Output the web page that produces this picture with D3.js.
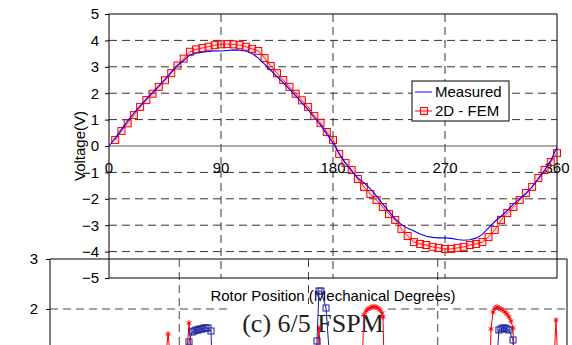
<!DOCTYPE html>
<html>
<head>
<meta charset="utf-8">
<script src="https://cdn.jsdelivr.net/npm/d3@7"></script>
<style>
  html, body { margin: 0; padding: 0; background: #fff; }
  svg { display: block; }
</style>
</head>
<body>
<svg id="chart" width="572" height="345"></svg>
<script>
// ---- Back-EMF over one mechanical revolution ----
const measuredDeg = [0,5,10,15,20,25,30,35,40,45,50,55,60,65,70,75,80,85,90,95,100,105,110,115,120,125,130,135,140,145,150,155,160,165,170,175,180,185,190,195,200,205,210,215,220,225,230,235,240,245,250,255,260,265,270,275,280,285,290,295,300,305,310,315,320,325,330,335,340,345,350,355,360];
const measuredVolt = [0,0.3,0.62,0.95,1.25,1.52,1.78,2.02,2.28,2.52,2.8,3.05,3.24,3.45,3.52,3.55,3.58,3.61,3.6,3.62,3.64,3.63,3.6,3.5,3.33,3.1,2.87,2.63,2.4,2.15,1.9,1.63,1.38,1.07,0.8,0.45,0.12,-0.3,-0.65,-0.95,-1.22,-1.4,-1.62,-1.9,-2.2,-2.48,-2.76,-2.98,-3.12,-3.22,-3.33,-3.42,-3.46,-3.48,-3.48,-3.5,-3.54,-3.57,-3.55,-3.49,-3.35,-3.1,-2.86,-2.66,-2.45,-2.2,-2.0,-1.8,-1.55,-1.25,-0.93,-0.55,-0.05];

const femDeg = [5,10,15,20,25,30,35,40,45,50,55,60,65,70,75,80,85,90,95,100,105,110,115,120,125,130,135,140,145,150,155,160,165,170,175,180,185,190,195,200,205,210,215,220,225,230,235,240,245,250,255,260,265,270,275,280,285,290,295,300,305,310,315,320,325,330,335,340,345,350,355,360];
const femVolt = [0.23,0.57,0.86,1.17,1.48,1.74,1.98,2.24,2.49,2.76,3.05,3.31,3.57,3.66,3.71,3.76,3.82,3.85,3.86,3.85,3.82,3.76,3.68,3.6,3.33,3.03,2.76,2.5,2.24,1.98,1.73,1.48,1.14,0.88,0.53,0.23,-0.3,-0.64,-0.91,-1.25,-1.55,-1.82,-2.05,-2.31,-2.58,-2.8,-3.14,-3.41,-3.64,-3.71,-3.75,-3.82,-3.86,-3.9,-3.9,-3.86,-3.82,-3.75,-3.71,-3.64,-3.45,-3.18,-2.8,-2.54,-2.31,-2.05,-1.78,-1.55,-1.21,-0.91,-0.61,-0.27];

const voltTicks = [-5,-4,-3,-2,-1,0,1,2,3,4,5];
const degTicks = [0,90,180,270,360];
const seriesNames = ["Measured", "2D - FEM"];

// ---- Top edge of the following figure (partly visible) ----
const lowerTicks = [2,3];
const lowerGridX = [90,180,270];
const lowerRedX = [80.1,82.2,84.3,94.7,96.8,98.9,185.9,187.3,188.7,217.3,218.6,220.0,221.4,222.8,224.2,225.6,227.0,228.4,229.8,231.2,231.9,232.6,306.4,307.1,308.5,309.9,311.3,312.6,314.0,315.4,316.8,318.2,319.6,321.0,322.4,323.1,350.9,352.3,353.7];
const lowerRedY = [0.9,1.5,0.9,0.9,1.72,0.9,0.9,1.62,0.9,0.9,1.88,1.96,2.0,2.02,2.04,2.04,2.04,2.02,1.98,1.92,1.84,0.9,0.9,1.6,1.94,2.02,2.04,2.02,2.0,1.98,1.94,1.9,1.84,1.76,1.62,0.9,0.9,1.78,0.9];
const lowerBlueX = [96.1,96.8,98.9,100.3,101.7,103.1,104.4,105.8,107.2,108.6,110.0,112.1,112.8,185.2,185.9,187.3,188.7,192.2,195.0,311.0,312.6,314.0,315.4,316.8,318.2,319.6,322.4,323.1];
const lowerBlueY = [0.9,1.34,1.54,1.56,1.58,1.58,1.6,1.6,1.62,1.62,1.62,1.56,0.9,0.9,1.36,2.36,2.36,2.02,0.9,0.9,1.58,1.6,1.62,1.62,1.6,1.58,1.38,0.9];
const captionText = "(c) 6/5 FSPM";

const SANS = "'Liberation Sans', Arial, sans-serif";
const SERIF = "'Liberation Serif', 'Times New Roman', serif";
const svg = d3.select("#chart");
svg.append("rect").attr("width", 572).attr("height", 345).attr("fill", "#fff");

// ---------- lower figure: frame and grid ----------
const xB = d3.scaleLinear().domain([0, 360]).range([50, 567]);
const yB = d3.scaleLinear().domain([0, 3]).range([409, 259]);
const lower = svg.append("g");

lower.selectAll("line.hgrid").data([2]).join("line")
  .attr("x1", xB(0)).attr("x2", xB(360))
  .attr("y1", d => yB(d)).attr("y2", d => yB(d))
  .attr("stroke", "#444").attr("stroke-dasharray", "8,5");
lower.selectAll("line.vgrid").data(lowerGridX).join("line")
  .attr("x1", d => xB(d)).attr("x2", d => xB(d))
  .attr("y1", yB(3)).attr("y2", 345)
  .attr("stroke", "#444").attr("stroke-dasharray", "8,5");
lower.append("path")
  .attr("d", `M${xB(0)},400V${yB(3)}H${xB(360)}V400`)
  .attr("fill", "none").attr("stroke", "#000");
const yAxisB = lower.append("g").attr("transform", `translate(${xB(0)},0)`)
  .call(d3.axisLeft(yB).tickValues(lowerTicks).tickSize(4).tickSizeOuter(0).tickPadding(8).tickFormat(d3.format("d")));
yAxisB.select(".domain").remove();
yAxisB.selectAll("text").attr("font-family", SANS).attr("font-size", 15).attr("fill", "#000");

// caption with its own white backing
svg.append("rect").attr("x", 231).attr("y", 304).attr("width", 156).attr("height", 41).attr("fill", "#fff");
svg.append("text").attr("x", 313).attr("y", 332).attr("text-anchor", "middle")
  .attr("font-family", SERIF).attr("font-size", 26).attr("fill", "#222").text(captionText);

// ---------- main chart ----------
const x = d3.scaleLinear().domain([0, 360]).range([109, 557]);
const y = d3.scaleLinear().domain([-5, 5]).range([278, 14]);
const main = svg.append("g");

main.selectAll("line.hg").data(voltTicks.filter(v => v !== 0 && Math.abs(v) !== 5)).join("line")
  .attr("x1", x(0)).attr("x2", x(360))
  .attr("y1", d => y(d)).attr("y2", d => y(d))
  .attr("stroke", "#333").attr("stroke-dasharray", "8,5");
main.selectAll("line.vg").data(degTicks.slice(1, -1)).join("line")
  .attr("x1", d => x(d)).attr("x2", d => x(d))
  .attr("y1", y(5)).attr("y2", y(-5))
  .attr("stroke", "#333").attr("stroke-dasharray", "8,5");
// zero line
main.append("line").attr("x1", x(0)).attr("x2", x(360)).attr("y1", y(0)).attr("y2", y(0))
  .attr("stroke", "#555");
// frame
main.append("rect").attr("x", x(0)).attr("y", y(5))
  .attr("width", x(360) - x(0)).attr("height", y(-5) - y(5))
  .attr("fill", "none").attr("stroke", "#000");

const yAxis = main.append("g").attr("transform", `translate(${x(0)},0)`)
  .call(d3.axisLeft(y).tickValues(voltTicks).tickSize(4).tickSizeOuter(0).tickPadding(6).tickFormat(d3.format("d")));
yAxis.select(".domain").remove();
yAxis.selectAll("text").attr("font-family", SANS).attr("font-size", 15).attr("fill", "#000");

main.selectAll("text.xl").data(degTicks).join("text")
  .attr("x", d => x(d)).attr("y", 173).attr("text-anchor", "middle")
  .attr("font-family", SANS).attr("font-size", 15).attr("fill", "#000")
  .text(d => d);

main.append("text").attr("transform", `translate(85,${y(0)}) rotate(-90)`)
  .attr("text-anchor", "middle").attr("font-family", SANS).attr("font-size", 15).attr("fill", "#000")
  .text("Voltage(V)");
main.append("text").attr("x", x(180)).attr("y", 301).attr("text-anchor", "middle")
  .attr("font-family", SANS).attr("font-size", 15).attr("fill", "#000")
  .text("Rotor Position (Mechanical Degrees)");

// series
const fem = femDeg.map((d, i) => [d, femVolt[i]]);
const meas = measuredDeg.map((d, i) => [d, measuredVolt[i]]);
const line = d3.line().x(d => x(d[0])).y(d => y(d[1]));

main.append("path").datum(fem).attr("d", line)
  .attr("fill", "none").attr("stroke", "#ff0000").attr("stroke-width", 1);
main.selectAll("rect.fem").data(fem).join("rect")
  .attr("x", d => x(d[0]) - 3.5).attr("y", d => y(d[1]) - 3.5)
  .attr("width", 7).attr("height", 7)
  .attr("fill", "rgba(255,120,120,0.25)").attr("stroke", "#ff0000").attr("stroke-width", 1);
main.append("path").datum(meas).attr("d", line)
  .attr("fill", "none").attr("stroke", "#0000ff").attr("stroke-width", 1.1);

// legend
const lg = main.append("g").attr("transform", "translate(412,81)");
lg.append("rect").attr("width", 97).attr("height", 40).attr("fill", "#fff").attr("stroke", "#000");
lg.append("line").attr("x1", 3).attr("x2", 20).attr("y1", 11).attr("y2", 11).attr("stroke", "#0000ff");
lg.append("line").attr("x1", 3).attr("x2", 20).attr("y1", 30).attr("y2", 30).attr("stroke", "#ff0000");
lg.append("rect").attr("x", 8.5).attr("y", 26.5).attr("width", 7).attr("height", 7)
  .attr("fill", "rgba(255,120,120,0.25)").attr("stroke", "#ff0000");
lg.selectAll("text").data(seriesNames).join("text")
  .attr("x", 23).attr("y", (d, i) => 16 + i * 19)
  .attr("font-family", SANS).attr("font-size", 15).attr("fill", "#000")
  .text(d => d);

// ---------- lower figure: traces (drawn last) ----------
const red = lowerRedX.map((d, i) => [d, lowerRedY[i]]);
const blue = lowerBlueX.map((d, i) => [d, lowerBlueY[i]]);
const lineB = d3.line().x(d => xB(d[0])).y(d => yB(d[1]));
const star = d3.symbol().type(d3.symbolAsterisk).size(22);

svg.append("path").datum(red).attr("d", lineB)
  .attr("fill", "none").attr("stroke", "#ff0000").attr("stroke-width", 1);
svg.selectAll("path.star").data(red).join("path")
  .attr("transform", d => `translate(${xB(d[0])},${yB(d[1])})`)
  .attr("d", star).attr("fill", "none").attr("stroke", "#ff0000").attr("stroke-width", 1);
svg.append("path").datum(blue).attr("d", lineB)
  .attr("fill", "none").attr("stroke", "#1c1c9c").attr("stroke-width", 1);
svg.selectAll("rect.bsq").data(blue).join("rect")
  .attr("x", d => xB(d[0]) - 3).attr("y", d => yB(d[1]) - 3)
  .attr("width", 6).attr("height", 6)
  .attr("fill", "none").attr("stroke", "#1c1c9c").attr("stroke-width", 1);
</script>
</body>
</html>
